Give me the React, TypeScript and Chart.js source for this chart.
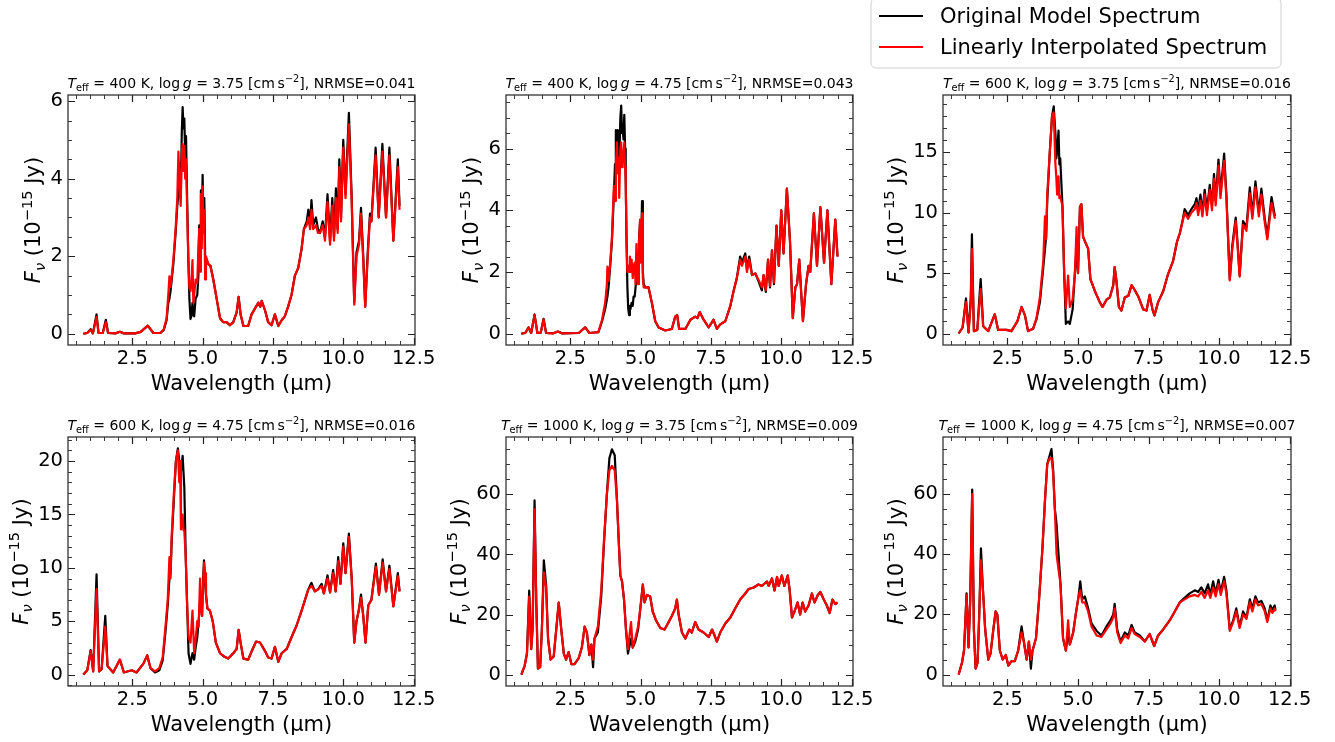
import React, { useEffect, useRef } from "react";
import { Chart, registerables } from "chart.js";

Chart.register(...registerables);

const FONT = "'DejaVu Sans', 'Liberation Sans', sans-serif";

// ---------------- Data (wavelength in µm, flux in 1e-15 Jy) ----------------
// Panel 1: Teff = 400 K, log g = 3.75
const P1_WAVE = [0.76, 0.9, 1.02, 1.1, 1.23, 1.3, 1.45, 1.56, 1.64, 1.9, 2.06, 2.2, 2.6, 2.8, 3.05, 3.25, 3.5, 3.62, 3.72, 3.78, 3.82, 3.86, 3.96, 4.04, 4.1, 4.14, 4.18, 4.22, 4.26, 4.29, 4.32, 4.35, 4.38, 4.41, 4.45, 4.49, 4.53, 4.57, 4.6, 4.64, 4.67, 4.7, 4.75, 4.81, 4.85, 4.88, 4.91, 4.94, 4.97, 5.0, 5.03, 5.06, 5.09, 5.12, 5.2, 5.28, 5.38, 5.5, 5.62, 5.73, 5.85, 5.97, 6.09, 6.21, 6.28, 6.35, 6.45, 6.62, 6.74, 6.9, 6.98, 7.05, 7.1, 7.22, 7.33, 7.45, 7.57, 7.69, 7.81, 7.92, 8.04, 8.16, 8.28, 8.4, 8.52, 8.6, 8.7, 8.76, 8.82, 8.87, 8.93, 9.03, 9.1, 9.17, 9.27, 9.35, 9.44, 9.53, 9.61, 9.67, 9.74, 9.8, 9.86, 9.92, 10.0, 10.08, 10.2, 10.3, 10.39, 10.47, 10.56, 10.63, 10.71, 10.78, 10.87, 10.95, 11.0, 11.15, 11.26, 11.39, 11.52, 11.64, 11.78, 11.94, 12.0];
const P1_ORIG = [0, 0.02, 0.12, 0.01, 0.5, 0.02, 0.02, 0.36, 0.02, 0.01, 0.05, 0.01, 0.01, 0.05, 0.21, 0.02, 0.02, 0.1, 0.35, 0.8, 0.9, 1.1, 1.8, 2.6, 3.3, 3.6, 4.4, 3.5, 5.2, 5.85, 5.3, 5.55, 4.6, 5.1, 3.5, 2.0, 0.9, 0.38, 0.45, 0.8, 0.5, 0.45, 0.9, 1.0, 1.5, 2.8, 2.0, 3.7, 2.5, 4.1, 2.9, 3.5, 2.0, 2.0, 1.8, 1.75, 1.4, 0.9, 0.4, 0.3, 0.3, 0.22, 0.3, 0.55, 0.95, 0.5, 0.2, 0.2, 0.5, 0.7, 0.8, 0.7, 0.85, 0.6, 0.3, 0.22, 0.5, 0.2, 0.35, 0.45, 0.7, 1.0, 1.5, 1.7, 2.2, 2.7, 2.9, 3.2, 2.8, 3.45, 2.8, 3.0, 2.7, 2.6, 2.9, 2.5, 3.6, 2.4, 3.5, 2.5, 3.75, 2.7, 4.5, 3.0, 5.0, 3.6, 5.7, 3.5, 0.8, 2.1, 2.4, 3.25, 2.0, 0.7, 2.1, 3.1, 2.9, 4.8, 3.0, 4.9, 3.0, 4.8, 2.4, 4.5, 3.3];
const P1_INTERP = [0, 0.02, 0.1, 0.01, 0.43, 0.02, 0.02, 0.3, 0.02, 0.01, 0.05, 0.01, 0.01, 0.05, 0.21, 0.02, 0.02, 0.12, 0.4, 1.0, 1.48, 1.2, 1.9, 2.7, 3.5, 4.7, 3.9, 3.3, 4.6, 4.9, 4.2, 4.85, 4.0, 4.5, 3.2, 2.0, 1.2, 1.1, 1.3, 1.9, 0.8, 1.0, 1.4, 1.3, 2.2, 2.7, 1.6, 3.6, 2.2, 3.8, 2.6, 3.2, 1.4, 2.0, 1.8, 1.75, 1.4, 0.9, 0.4, 0.3, 0.3, 0.22, 0.3, 0.55, 0.95, 0.5, 0.2, 0.2, 0.5, 0.7, 0.8, 0.7, 0.85, 0.6, 0.3, 0.22, 0.5, 0.2, 0.35, 0.45, 0.7, 1.0, 1.5, 1.7, 2.2, 2.7, 2.8, 3.0, 2.7, 3.2, 2.7, 2.8, 2.6, 2.6, 2.8, 2.4, 3.4, 2.3, 3.3, 2.4, 3.5, 2.6, 4.3, 2.9, 4.8, 3.5, 5.4, 3.4, 0.75, 2.0, 2.3, 3.1, 1.9, 0.7, 2.0, 3.0, 2.9, 4.6, 3.0, 4.7, 3.0, 4.6, 2.4, 4.3, 3.2];

// Panel 2: Teff = 400 K, log g = 4.75
const P2_WAVE = [0.76, 0.9, 1.02, 1.11, 1.23, 1.33, 1.45, 1.55, 1.64, 1.9, 2.06, 2.2, 2.8, 3.03, 3.18, 3.5, 3.63, 3.74, 3.8, 3.82, 3.86, 3.92, 3.98, 4.05, 4.09, 4.12, 4.16, 4.19, 4.22, 4.24, 4.28, 4.31, 4.34, 4.36, 4.39, 4.42, 4.45, 4.47, 4.5, 4.53, 4.56, 4.59, 4.62, 4.64, 4.68, 4.72, 4.75, 4.79, 4.82, 4.85, 4.88, 4.91, 4.94, 4.98, 5.01, 5.05, 5.08, 5.11, 5.17, 5.28, 5.4, 5.52, 5.64, 5.88, 6.11, 6.23, 6.3, 6.37, 6.59, 6.77, 6.94, 7.02, 7.1, 7.24, 7.42, 7.59, 7.71, 7.83, 8.01, 8.19, 8.31, 8.42, 8.54, 8.6, 8.72, 8.78, 8.86, 8.96, 9.08, 9.19, 9.31, 9.37, 9.45, 9.53, 9.6, 9.67, 9.74, 9.83, 9.91, 10.0, 10.08, 10.2, 10.31, 10.41, 10.5, 10.56, 10.64, 10.71, 10.77, 10.88, 10.97, 11.03, 11.16, 11.27, 11.39, 11.52, 11.64, 11.78, 11.92, 12.0];
const P2_ORIG = [0, 0.02, 0.2, 0.02, 0.62, 0.02, 0.03, 0.48, 0.02, 0.01, 0.07, 0.01, 0.02, 0.2, 0.02, 0.05, 0.4, 0.8, 1.1, 1.2, 1.5, 2.2, 3.0, 4.5, 5.5, 6.6, 5.8, 6.6, 6.0, 5.5, 7.0, 7.4, 6.5, 6.7, 6.3, 7.1, 6.0, 5.0, 3.0, 1.5, 0.8, 0.6, 0.9, 0.8, 1.0, 0.9, 1.2, 1.2, 1.5, 1.8, 2.4, 2.0, 3.0, 3.6, 2.5, 4.3, 2.0, 1.6, 1.5, 1.5, 1.0, 0.4, 0.2, 0.1, 0.15, 0.55, 0.6, 0.15, 0.15, 0.45, 0.55, 0.5, 0.7, 0.45, 0.2, 0.45, 0.15, 0.3, 0.4, 0.9, 1.4, 1.8, 2.5, 2.3, 2.6, 2.1, 2.5, 1.9, 1.95, 1.7, 1.4, 1.9, 1.35, 2.4, 1.5, 2.7, 1.6, 3.5, 2.2, 4.0, 2.6, 4.7, 3.0, 0.5, 1.5, 1.6, 2.4, 1.3, 0.4, 1.6, 2.2, 2.0, 3.9, 2.2, 4.1, 2.3, 4.0, 1.6, 3.7, 2.5];
const P2_INTERP = [0, 0.02, 0.2, 0.02, 0.6, 0.02, 0.03, 0.46, 0.02, 0.01, 0.07, 0.01, 0.02, 0.2, 0.02, 0.05, 0.45, 1.0, 1.6, 2.17, 1.7, 2.3, 3.1, 4.79, 4.3, 5.5, 6.2, 5.2, 5.7, 4.4, 6.0, 6.2, 5.4, 5.5, 5.8, 6.2, 5.4, 5.0, 3.0, 2.0, 2.2, 2.0, 2.5, 2.0, 2.4, 1.8, 2.2, 2.3, 1.6, 2.9, 2.1, 1.6, 2.9, 3.7, 2.3, 3.9, 1.8, 1.5, 1.5, 1.5, 1.0, 0.4, 0.2, 0.1, 0.15, 0.55, 0.6, 0.15, 0.15, 0.45, 0.55, 0.5, 0.7, 0.45, 0.2, 0.45, 0.15, 0.3, 0.4, 0.9, 1.4, 1.8, 2.4, 2.2, 2.5, 2.0, 2.4, 1.9, 1.95, 1.75, 1.5, 1.9, 1.4, 2.4, 1.55, 2.7, 1.65, 3.5, 2.2, 4.0, 2.6, 4.7, 3.0, 0.5, 1.5, 1.6, 2.4, 1.3, 0.4, 1.6, 2.2, 2.0, 3.9, 2.2, 4.1, 2.3, 4.0, 1.6, 3.7, 2.5];

// Panel 3: Teff = 600 K, log g = 3.75
const P3_WAVE = [0.77, 0.91, 1.03, 1.12, 1.2, 1.24, 1.31, 1.43, 1.55, 1.64, 1.82, 2.05, 2.17, 2.47, 2.64, 2.85, 3.0, 3.12, 3.23, 3.41, 3.53, 3.65, 3.77, 3.83, 3.87, 3.91, 4.0, 4.08, 4.14, 4.2, 4.23, 4.26, 4.31, 4.34, 4.37, 4.45, 4.51, 4.57, 4.65, 4.71, 4.81, 4.89, 4.95, 5.0, 5.07, 5.12, 5.18, 5.27, 5.36, 5.44, 5.6, 5.77, 5.87, 6.01, 6.13, 6.25, 6.3, 6.36, 6.45, 6.54, 6.66, 6.78, 6.9, 7.01, 7.15, 7.31, 7.43, 7.54, 7.64, 7.71, 7.84, 8.02, 8.19, 8.37, 8.51, 8.61, 8.72, 8.78, 8.9, 9.02, 9.14, 9.2, 9.26, 9.34, 9.41, 9.49, 9.57, 9.67, 9.75, 9.82, 9.88, 9.98, 10.05, 10.18, 10.26, 10.38, 10.47, 10.59, 10.67, 10.73, 10.85, 10.97, 11.09, 11.18, 11.29, 11.41, 11.5, 11.62, 11.71, 11.86, 11.98];
const P3_ORIG = [0, 0.5, 2.9, 0.1, 3.0, 8.2, 0.2, 0.3, 4.5, 0.6, 0.2, 1.6, 0.3, 0.3, 0.2, 1.0, 2.2, 1.5, 0.2, 0.4, 1.2, 2.6, 5.5, 7.0, 8.0, 11.0, 15.0, 18.0, 18.8, 16.5, 14.5, 15.0, 16.8, 14.0, 14.5, 10.5, 5.0, 0.8, 1.0, 0.8, 2.0, 5.0, 7.0, 5.0, 10.5, 10.7, 8.0, 7.5, 7.0, 4.5, 3.5, 2.6, 2.2, 2.8, 3.0, 4.0, 5.5, 4.4, 2.2, 1.9, 3.0, 3.1, 4.0, 3.6, 3.0, 2.0, 1.9, 3.2, 2.0, 1.5, 2.6, 3.5, 4.9, 6.0, 7.6, 8.3, 9.5, 10.3, 9.8, 10.3, 10.7, 11.2, 10.2, 11.5, 10.0, 11.9, 10.2, 12.3, 10.6, 13.2, 11.0, 14.4, 11.6, 14.9, 11.5, 4.5, 7.3, 9.6, 7.0, 4.8, 9.3, 8.8, 12.1, 9.8, 12.6, 10.0, 12.0, 9.5, 8.0, 11.3, 9.7];
const P3_INTERP = [0, 0.5, 2.6, 0.1, 2.5, 7.0, 0.2, 0.3, 3.7, 0.6, 0.2, 1.6, 0.3, 0.3, 0.2, 1.0, 2.2, 1.5, 0.2, 0.4, 1.3, 3.0, 6.0, 9.7, 7.8, 11.5, 15.0, 18.0, 18.3, 14.0, 13.0, 11.5, 13.0, 11.2, 11.4, 10.5, 5.0, 2.1, 4.8, 2.2, 2.8, 5.0, 8.8, 5.0, 10.5, 10.7, 8.0, 7.5, 7.0, 4.5, 3.5, 2.6, 2.2, 2.8, 3.0, 4.0, 5.5, 4.4, 2.2, 1.9, 3.0, 3.1, 4.0, 3.6, 3.0, 2.0, 1.9, 3.2, 2.0, 1.5, 2.6, 3.5, 4.9, 6.0, 7.6, 8.3, 9.4, 10.0, 9.5, 10.0, 10.3, 10.8, 9.8, 11.0, 9.7, 11.5, 9.8, 11.9, 10.2, 12.8, 10.6, 13.9, 11.2, 14.3, 11.2, 4.4, 7.0, 9.3, 6.8, 4.7, 9.0, 8.5, 11.6, 9.5, 12.1, 9.7, 11.5, 9.2, 7.8, 10.8, 9.5];

// Panel 4: Teff = 600 K, log g = 4.75
const P4_WAVE = [0.76, 0.9, 1.02, 1.11, 1.23, 1.32, 1.41, 1.54, 1.62, 1.82, 2.06, 2.2, 2.48, 2.65, 2.89, 3.03, 3.15, 3.31, 3.46, 3.58, 3.68, 3.76, 3.82, 3.86, 3.9, 3.98, 4.05, 4.12, 4.17, 4.2, 4.23, 4.29, 4.32, 4.35, 4.4, 4.45, 4.5, 4.57, 4.64, 4.7, 4.75, 4.81, 4.86, 4.91, 4.95, 4.98, 5.02, 5.05, 5.09, 5.12, 5.17, 5.26, 5.36, 5.47, 5.62, 5.76, 5.91, 6.09, 6.21, 6.28, 6.35, 6.45, 6.62, 6.78, 6.9, 7.04, 7.22, 7.33, 7.45, 7.57, 7.69, 7.81, 7.99, 8.16, 8.34, 8.52, 8.64, 8.76, 8.87, 8.99, 9.11, 9.23, 9.31, 9.44, 9.53, 9.64, 9.73, 9.82, 9.9, 10.0, 10.08, 10.2, 10.3, 10.39, 10.47, 10.55, 10.63, 10.71, 10.79, 10.89, 11.0, 11.16, 11.27, 11.4, 11.52, 11.64, 11.78, 11.94, 12.0];
const P4_ORIG = [0, 0.4, 2.3, 0.3, 9.4, 0.3, 0.5, 5.5, 0.8, 0.2, 1.4, 0.2, 0.4, 0.2, 1.0, 1.8, 0.6, 0.2, 0.4, 1.3, 4.0, 6.5, 9.0, 9.5, 12.5, 16.5, 20.0, 21.2, 20.0, 19.5, 19.0, 20.5, 19.0, 17.5, 11.0, 6.5, 2.0, 1.0, 2.0, 1.4, 2.5, 3.5, 5.0, 7.0, 6.5, 5.5, 9.0, 10.7, 8.5, 7.5, 6.2, 6.0, 5.0, 3.0, 2.0, 1.7, 1.5, 2.0, 2.4, 4.2, 3.0, 1.5, 1.4, 2.4, 3.1, 3.0, 2.2, 1.6, 1.5, 2.6, 1.2, 2.0, 2.4, 3.5, 4.6, 6.0, 7.0, 8.0, 8.6, 7.8, 8.0, 8.5, 7.6, 9.3, 7.7, 9.8, 7.8, 11.0, 8.5, 12.3, 9.5, 13.2, 9.0, 3.0, 5.0, 6.0, 7.5, 5.5, 3.0, 6.5, 7.0, 10.4, 7.5, 10.8, 7.8, 10.2, 6.4, 9.5, 7.8];
const P4_INTERP = [0, 0.4, 2.2, 0.3, 8.0, 0.3, 0.5, 4.5, 0.8, 0.2, 1.4, 0.2, 0.4, 0.2, 1.0, 1.8, 0.6, 0.3, 0.6, 1.6, 4.5, 7.0, 11.0, 9.0, 13.0, 17.0, 20.0, 21.0, 18.0, 20.0, 13.6, 15.0, 13.5, 13.5, 11.0, 6.5, 3.5, 3.0, 6.0, 2.0, 3.2, 5.0, 4.5, 9.0, 6.0, 5.5, 8.5, 10.5, 9.5, 7.5, 6.2, 6.0, 5.0, 3.0, 2.0, 1.7, 1.5, 2.0, 2.4, 4.2, 3.0, 1.5, 1.4, 2.4, 3.1, 3.0, 2.2, 1.6, 1.5, 2.6, 1.2, 2.0, 2.4, 3.5, 4.6, 6.0, 7.0, 8.0, 8.3, 7.8, 8.0, 8.3, 7.6, 9.0, 7.7, 9.5, 7.8, 10.6, 8.5, 12.0, 9.5, 12.9, 9.0, 3.0, 5.0, 6.0, 7.2, 5.5, 3.0, 6.5, 7.0, 10.1, 7.5, 10.5, 7.8, 9.9, 6.4, 9.2, 7.8];

// Panel 5: Teff = 1000 K, log g = 3.75
const P5_WAVE = [0.76, 0.88, 0.96, 1.04, 1.11, 1.16, 1.23, 1.29, 1.35, 1.43, 1.49, 1.56, 1.64, 1.71, 1.8, 1.91, 2.0, 2.09, 2.18, 2.27, 2.35, 2.44, 2.54, 2.65, 2.8, 2.91, 3.01, 3.09, 3.18, 3.25, 3.31, 3.36, 3.48, 3.6, 3.7, 3.8, 3.89, 3.98, 4.08, 4.16, 4.22, 4.28, 4.34, 4.41, 4.48, 4.55, 4.66, 4.72, 4.81, 4.91, 4.99, 5.08, 5.14, 5.22, 5.34, 5.43, 5.55, 5.7, 5.85, 5.97, 6.11, 6.23, 6.29, 6.35, 6.47, 6.59, 6.73, 6.82, 6.94, 7.06, 7.24, 7.42, 7.54, 7.63, 7.71, 7.83, 8.01, 8.19, 8.36, 8.54, 8.72, 8.84, 9.02, 9.19, 9.31, 9.49, 9.55, 9.67, 9.76, 9.85, 9.91, 10.02, 10.11, 10.23, 10.3, 10.38, 10.47, 10.58, 10.67, 10.76, 10.85, 10.97, 11.09, 11.18, 11.3, 11.39, 11.51, 11.62, 11.72, 11.82, 11.92, 12.0];
const P5_ORIG = [0, 3.0, 7.0, 28, 8.5, 15, 58, 25, 2.0, 2.5, 15, 38, 30, 12, 5, 6, 15, 24, 15, 7, 5, 7.5, 3.5, 3.5, 5.5, 9, 16, 14, 6.5, 10, 2.5, 12, 14, 26, 44, 60, 72, 75, 73, 58, 45, 33, 31, 25, 15, 7, 12, 9, 11, 15, 22, 30, 24, 26.5, 26, 21, 18, 15.5, 15, 17, 19.5, 22, 25, 20, 14, 12, 15, 14, 17.5, 15, 14, 12.5, 15, 13, 11, 14, 17, 19, 22, 25, 27, 28.5, 29, 30, 29.5, 31, 29.5, 32, 28, 32.5, 29.5, 33, 29.5, 33, 28, 19, 21, 24, 20, 24, 21, 23, 27, 24, 26.5, 27.5, 25, 23, 20.5, 25, 23.5, 24];
const P5_INTERP = [0, 3.0, 7.0, 26, 8.5, 15, 55, 24, 2.0, 2.5, 15, 34, 29, 12, 5, 6, 15, 24, 15, 7, 5, 7.5, 3.5, 3.5, 5.5, 9, 16, 14, 6.5, 10, 5, 12, 16, 28, 45, 60, 68, 69.5, 68, 58, 45, 33, 31, 25, 15, 8.5, 17.5, 9, 12, 16, 22, 30, 24, 26.5, 26, 21, 18, 15.5, 15, 17, 19.5, 22, 25, 20, 14, 12, 15, 14, 17.5, 15, 14, 12.5, 15, 13, 11, 14, 17, 19, 22, 25, 27, 28.5, 29, 30, 29.5, 31, 29.5, 32, 28, 32.5, 29.5, 33, 29.5, 33, 28, 19, 21, 24, 20, 24, 21, 23, 27, 24, 26.5, 27.5, 25, 23, 20.5, 25, 23.5, 24];

// Panel 6: Teff = 1000 K, log g = 4.75
const P6_WAVE = [0.77, 0.89, 0.96, 1.05, 1.12, 1.18, 1.25, 1.31, 1.37, 1.44, 1.5, 1.56, 1.62, 1.71, 1.82, 1.9, 2.0, 2.08, 2.14, 2.23, 2.33, 2.44, 2.53, 2.64, 2.76, 2.88, 3.0, 3.08, 3.18, 3.26, 3.33, 3.39, 3.51, 3.62, 3.74, 3.83, 3.91, 4.0, 4.06, 4.12, 4.18, 4.24, 4.31, 4.38, 4.47, 4.57, 4.65, 4.71, 4.83, 4.92, 5.02, 5.08, 5.15, 5.24, 5.36, 5.48, 5.66, 5.83, 6.01, 6.15, 6.25, 6.3, 6.39, 6.51, 6.66, 6.78, 6.9, 7.01, 7.19, 7.37, 7.54, 7.64, 7.7, 7.84, 8.02, 8.25, 8.43, 8.61, 8.78, 8.96, 9.14, 9.26, 9.37, 9.49, 9.61, 9.69, 9.79, 9.88, 9.98, 10.06, 10.18, 10.26, 10.38, 10.5, 10.61, 10.73, 10.85, 10.97, 11.09, 11.18, 11.29, 11.38, 11.5, 11.62, 11.71, 11.82, 11.89, 11.97, 12.0];
const P6_ORIG = [0, 4, 8, 27, 9, 25, 61.5, 15, 2, 4, 20, 42, 30, 15, 5, 7, 15, 21, 20, 8, 5, 6.5, 3, 4.5, 4.5, 8, 16, 11, 5, 11, 2, 8, 12, 25, 42, 58, 70, 73, 75, 68, 55, 50, 40, 30, 12, 8, 14, 10, 14, 20, 26, 31, 25, 26, 22, 17, 14.5, 13, 16, 18, 20, 23.5, 15, 11, 14, 13, 16.5, 14, 13, 11, 13.5, 11, 9.5, 13, 15, 18, 21, 24, 25.5, 27, 28, 27.5, 29, 27, 30, 26.5, 31, 27, 31.5, 27.5, 32.5, 28, 15, 18, 22, 16, 21, 19, 25, 22, 26, 24, 24.5, 22, 18, 23, 21.5, 23, 21.5];
const P6_INTERP = [0, 4, 8, 26.5, 9, 25, 60, 15, 2, 4, 20, 38, 30, 15, 5, 7, 15, 21, 20, 8, 5, 6.5, 3, 4.5, 4.5, 8, 14, 11, 5, 11, 5, 8, 12, 25, 42, 58, 70, 72, 72, 67, 55, 40, 35, 30, 12, 8, 18, 10, 14, 20, 26, 28, 24, 24, 21, 16, 13, 12.5, 15, 17, 19, 22, 14, 10.5, 13, 12, 15.5, 13.5, 12.5, 11, 13.5, 11, 9.5, 13, 15, 18, 21, 24, 25, 26, 26.5, 26, 27.5, 25.5, 28, 25.5, 29, 26, 30, 26.5, 31, 27, 14.5, 17.5, 21, 15.5, 20, 18.5, 24, 21, 25, 23, 23.5, 21, 17.5, 22, 20.5, 22, 21];

// ---------------- Labels / ticks ----------------
const SERIES_LABELS = ["Original Model Spectrum", "Linearly Interpolated Spectrum"];
const TEFF_LABELS = ["400", "400", "600", "600", "1000", "1000"];
const LOGG_LABELS = ["3.75", "4.75", "3.75", "4.75", "3.75", "4.75"];
const NRMSE_LABELS = ["0.041", "0.043", "0.016", "0.016", "0.009", "0.007"];
const X_TICKS = [2.5, 5.0, 7.5, 10.0, 12.5];
const Y_TICKS_LOW = [0, 2, 4, 6];
const Y_TICKS_MID = [0, 5, 10, 15];
const Y_TICKS_MID2 = [0, 5, 10, 15, 20];
const Y_TICKS_HIGH = [0, 20, 40, 60];
const X_LABEL = "Wavelength (µm)";

type Box = { left: number; top: number; right: number; bottom: number };
type Cv = { left: number; top: number; width: number; height: number };
type PanelCfg = {
  wave: number[]; orig: number[]; interp: number[];
  idx: number; box: Box; cv: Cv;
  yMin: number; yMax: number; yTicks: number[]; yMinor: number;
  ylabOff: number; legend?: boolean;
};

const X_MIN = 0.215;
const X_MAX = 12.55;
const TOP_ROW = { top: 95, bottom: 345 };
const BOT_ROW = { top: 437, bottom: 686 };
const COLS = [{ left: 68, right: 415 }, { left: 506, right: 853 }, { left: 943, right: 1291 }];

const PANELS: PanelCfg[] = [
  { wave: P1_WAVE, orig: P1_ORIG, interp: P1_INTERP, idx: 0, box: { ...COLS[0], ...TOP_ROW }, cv: { left: 0, top: 50, width: 460, height: 350 }, yMin: -0.29, yMax: 6.16, yTicks: Y_TICKS_LOW, yMinor: 0.5, ylabOff: 28 },
  { wave: P2_WAVE, orig: P2_ORIG, interp: P2_INTERP, idx: 1, box: { ...COLS[1], ...TOP_ROW }, cv: { left: 438, top: 50, width: 455, height: 350 }, yMin: -0.37, yMax: 7.74, yTicks: Y_TICKS_LOW, yMinor: 0.5, ylabOff: 28 },
  { wave: P3_WAVE, orig: P3_ORIG, interp: P3_INTERP, idx: 2, box: { ...COLS[2], ...TOP_ROW }, cv: { left: 860, top: 0, width: 475, height: 400 }, yMin: -0.95, yMax: 19.74, yTicks: Y_TICKS_MID, yMinor: 1, ylabOff: 40.5, legend: true },
  { wave: P4_WAVE, orig: P4_ORIG, interp: P4_INTERP, idx: 3, box: { ...COLS[0], ...BOT_ROW }, cv: { left: 0, top: 395, width: 460, height: 347 }, yMin: -1.07, yMax: 22.26, yTicks: Y_TICKS_MID2, yMinor: 1, ylabOff: 40.5 },
  { wave: P5_WAVE, orig: P5_ORIG, interp: P5_INTERP, idx: 4, box: { ...COLS[1], ...BOT_ROW }, cv: { left: 438, top: 395, width: 455, height: 347 }, yMin: -3.8, yMax: 79.1, yTicks: Y_TICKS_HIGH, yMinor: 5, ylabOff: 40.5 },
  { wave: P6_WAVE, orig: P6_ORIG, interp: P6_INTERP, idx: 5, box: { ...COLS[2], ...BOT_ROW }, cv: { left: 875, top: 395, width: 460, height: 347 }, yMin: -3.8, yMax: 79.0, yTicks: Y_TICKS_HIGH, yMinor: 5, ylabOff: 40.5 },
];

type Seg = { t: string; italic?: boolean; scale?: number; dy?: number };

function fontOf(s: Seg, size: number) {
  return `${s.italic ? "italic " : ""}${(size * (s.scale || 1)).toFixed(2)}px ${FONT}`;
}

function drawRich(ctx: CanvasRenderingContext2D, segs: Seg[], x: number, y: number, size: number) {
  let w = 0;
  segs.forEach((s) => { ctx.font = fontOf(s, size); w += ctx.measureText(s.t).width; });
  let cx = x - w / 2;
  ctx.textAlign = "left";
  ctx.textBaseline = "alphabetic";
  segs.forEach((s) => {
    ctx.font = fontOf(s, size);
    ctx.fillText(s.t, cx, y + (s.dy || 0) * size);
    cx += ctx.measureText(s.t).width;
  });
}

function makeDecor(cfg: PanelCfg) {
  return {
    id: "decor" + cfg.idx,
    afterDraw(chart: any) {
      const ctx: CanvasRenderingContext2D = chart.ctx;
      const { left, right, top, bottom } = chart.chartArea;
      const xs = chart.scales.x;
      const ys = chart.scales.y;
      ctx.save();
      ctx.strokeStyle = "#222";
      ctx.fillStyle = "#000";
      const drawTicks = (min: number, max: number, step: number, major: number[], horiz: boolean) => {
        const k0 = Math.ceil(min / step - 1e-9);
        const k1 = Math.floor(max / step + 1e-9);
        for (let k = k0; k <= k1; k++) {
          const v = k * step;
          const isMajor = major.some((m) => Math.abs(m - v) < 1e-6);
          const len = isMajor ? 7 : 4;
          ctx.lineWidth = isMajor ? 1.2 : 0.9;
          ctx.beginPath();
          if (horiz) {
            const p = Math.round(xs.getPixelForValue(v)) + 0.5;
            ctx.moveTo(p, bottom); ctx.lineTo(p, bottom - len);
            ctx.moveTo(p, top); ctx.lineTo(p, top + len);
          } else {
            const p = Math.round(ys.getPixelForValue(v)) + 0.5;
            ctx.moveTo(left, p); ctx.lineTo(left + len, p);
            ctx.moveTo(right, p); ctx.lineTo(right - len, p);
          }
          ctx.stroke();
        }
      };
      drawTicks(xs.min, xs.max, 0.5, X_TICKS, true);
      drawTicks(ys.min, ys.max, cfg.yMinor, cfg.yTicks, false);
      ctx.lineWidth = 1.3;
      ctx.strokeStyle = "#333";
      ctx.strokeRect(left, top, right - left, bottom - top);

      const cxm = (left + right) / 2;
      const cym = (top + bottom) / 2;
      ctx.fillStyle = "#000";
      drawRich(ctx, [
        { t: "T", italic: true },
        { t: "eff", scale: 0.7, dy: 0.22 },
        { t: " = " + TEFF_LABELS[cfg.idx] + " K, log\u2009" },
        { t: "g", italic: true },
        { t: " = " + LOGG_LABELS[cfg.idx] + " [cm\u2009s" },
        { t: "\u22122", scale: 0.7, dy: -0.4 },
        { t: "], NRMSE=" + NRMSE_LABELS[cfg.idx] },
      ], cxm, top - 7, 14);
      drawRich(ctx, [{ t: X_LABEL }], cxm, bottom + 45, 21);
      ctx.save();
      ctx.translate(left - cfg.ylabOff, cym);
      ctx.rotate(-Math.PI / 2);
      drawRich(ctx, [
        { t: "F", italic: true },
        { t: "\u03bd", italic: true, scale: 0.7, dy: 0.22 },
        { t: " (10" },
        { t: "\u221215", scale: 0.7, dy: -0.4 },
        { t: " Jy)" },
      ], 0, 0, 21);
      ctx.restore();

      if (cfg.legend) {
        const ox = -cfg.cv.left, oy = -cfg.cv.top;
        const bx = 871 + ox, by = -2 + oy, bw = 410, bh = 70, r = 5;
        ctx.beginPath();
        ctx.moveTo(bx + r, by);
        ctx.lineTo(bx + bw - r, by);
        ctx.arcTo(bx + bw, by, bx + bw, by + r, r);
        ctx.lineTo(bx + bw, by + bh - r);
        ctx.arcTo(bx + bw, by + bh, bx + bw - r, by + bh, r);
        ctx.lineTo(bx + r, by + bh);
        ctx.arcTo(bx, by + bh, bx, by + bh - r, r);
        ctx.lineTo(bx, by + r);
        ctx.arcTo(bx, by, bx + r, by, r);
        ctx.closePath();
        ctx.fillStyle = "rgba(255,255,255,0.8)";
        ctx.fill();
        ctx.strokeStyle = "#d0d0d0";
        ctx.lineWidth = 1;
        ctx.stroke();
        const colors = ["#000000", "#ff0000"];
        const lineY = [16, 47];
        const baseY = [23, 54];
        for (let i = 0; i < 2; i++) {
          ctx.strokeStyle = colors[i];
          ctx.lineWidth = 2;
          ctx.beginPath();
          ctx.moveTo(879 + ox, lineY[i] + oy);
          ctx.lineTo(923 + ox, lineY[i] + oy);
          ctx.stroke();
          ctx.fillStyle = "#000";
          ctx.font = `21px ${FONT}`;
          ctx.textAlign = "left";
          ctx.textBaseline = "alphabetic";
          ctx.fillText(SERIES_LABELS[i], 940 + ox, baseY[i] + oy);
        }
      }
      ctx.restore();
    },
  };
}

function Panel({ cfg }: { cfg: PanelCfg }) {
  const ref = useRef<HTMLCanvasElement | null>(null);
  useEffect(() => {
    const canvas = ref.current;
    if (!canvas) return;
    const yW = 60;
    const xH = 50;
    const { box, cv } = cfg;
    const pad = {
      left: box.left - cv.left - yW,
      top: box.top - cv.top,
      right: cv.left + cv.width - box.right,
      bottom: cv.top + cv.height - box.bottom - xH,
    };
    const lineStyle = { borderWidth: 2.2, pointRadius: 0, tension: 0, fill: false, borderJoinStyle: "round", borderCapStyle: "butt" };
    const chart = new Chart(canvas, {
      type: "line",
      data: {
        datasets: [
          { label: SERIES_LABELS[0], data: cfg.wave.map((x, i) => ({ x, y: cfg.orig[i] })), borderColor: "#000000", order: 2, ...lineStyle },
          { label: SERIES_LABELS[1], data: cfg.wave.map((x, i) => ({ x, y: cfg.interp[i] })), borderColor: "#ff0000", order: 1, ...lineStyle },
        ],
      },
      options: {
        responsive: false,
        maintainAspectRatio: false,
        animation: false,
        events: [],
        layout: { padding: pad },
        plugins: { legend: { display: false }, tooltip: { enabled: false }, title: { display: false } },
        scales: {
          x: {
            type: "linear",
            min: X_MIN,
            max: X_MAX,
            grid: { display: false, drawTicks: false },
            border: { display: false },
            ticks: {
              color: "#000",
              font: { family: FONT, size: 19.5 },
              padding: 2,
              maxRotation: 0,
              autoSkip: false,
              callback: (v: any) => Number(v).toFixed(1),
            },
            afterBuildTicks: (s: any) => { s.ticks = X_TICKS.map((v) => ({ value: v })); },
            afterFit: (s: any) => { s.height = xH; },
          },
          y: {
            type: "linear",
            min: cfg.yMin,
            max: cfg.yMax,
            grid: { display: false, drawTicks: false },
            border: { display: false },
            ticks: {
              color: "#000",
              font: { family: FONT, size: 19.5 },
              padding: 5,
              autoSkip: false,
              callback: (v: any) => String(Math.round(Number(v))),
            },
            afterBuildTicks: (s: any) => { s.ticks = cfg.yTicks.map((v) => ({ value: v })); },
            afterFit: (s: any) => { s.width = yW; },
          },
        },
      } as any,
      plugins: [makeDecor(cfg)],
    } as any);
    return () => chart.destroy();
  }, [cfg]);
  return (
    <canvas
      ref={ref}
      width={cfg.cv.width}
      height={cfg.cv.height}
      style={{ position: "absolute", left: cfg.cv.left, top: cfg.cv.top, width: cfg.cv.width, height: cfg.cv.height }}
    />
  );
}

export default function App() {
  return (
    <div style={{ position: "absolute", left: 0, top: 0, width: 1335, height: 742, background: "#fff", overflow: "hidden" }}>
      {PANELS.map((p) => (
        <Panel key={p.idx} cfg={p} />
      ))}
    </div>
  );
}
